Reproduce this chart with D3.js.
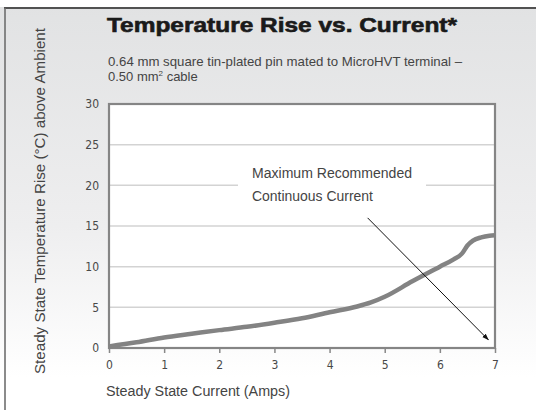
<!DOCTYPE html>
<html>
<head>
  <title>Temperature Rise vs. Current</title>
  <script src="https://d3js.org/d3.v7.min.js"></script>
  <style>
  body { margin: 0; background: #fff; }
  svg { display: block; font-family: 'Liberation Sans', Arial, sans-serif; }
  .tick text { font-family: 'Liberation Sans Narrow', 'DejaVu Sans Condensed', sans-serif; font-size: 12px; fill: #484848; }
  .tick line { stroke: #888; stroke-width: 1.5; }
  .domain { display: none; }
  </style>
</head>
<body>
<svg id="chart"></svg>
<script>
  // values
  var currentAmps = [0, 0.5, 1, 1.5, 2, 2.5, 3, 3.5, 4, 4.5, 4.75, 5, 5.5, 6, 6.25, 6.4, 6.5, 6.6, 6.75, 6.9, 7];
  var tempRise    = [0.2, 0.7, 1.3, 1.75, 2.2, 2.6, 3.1, 3.65, 4.4, 5.1, 5.6, 6.3, 8.2, 10.0, 10.9, 11.6, 12.6, 13.2, 13.6, 13.8, 13.85];
  var xTicks = [0, 1, 2, 3, 4, 5, 6, 7];
  var yTicks = [0, 5, 10, 15, 20, 25, 30];
  var gridValues = [5, 10, 15, 20, 25];
  // arrow pointing at the max recommended continuous current
  var arrowFrom = [4.69, 16.0];
  var arrowTo = [6.88, 1.0];

  var width = 536, height = 410;
  var svg = d3.select("#chart").attr("width", width).attr("height", height);

  var defs = svg.append("defs");
  var grad = defs.append("linearGradient").attr("id", "bg").attr("x1", 0).attr("y1", 0).attr("x2", 0).attr("y2", 1);
  grad.append("stop").attr("offset", "0%").attr("stop-color", "#e1e2e3");
  grad.append("stop").attr("offset", "55%").attr("stop-color", "#eeeeef");
  grad.append("stop").attr("offset", "92%").attr("stop-color", "#ffffff");
  defs.append("marker").attr("id", "arrow")
    .attr("viewBox", "0 0 10 10").attr("refX", 9).attr("refY", 5)
    .attr("markerWidth", 7).attr("markerHeight", 7).attr("orient", "auto")
    .append("path").attr("d", "M0,1.5 L10,5 L0,8.5 Z").attr("fill", "#111");

  // panel background and frame
  svg.append("rect").attr("x", 0).attr("y", 0).attr("width", width).attr("height", height).attr("fill", "url(#bg)");
  svg.append("rect").attr("x", 0).attr("y", 0).attr("width", width).attr("height", 7).attr("fill", "#fff");
  svg.append("line").attr("x1", 4).attr("x2", width).attr("y1", 8).attr("y2", 8).attr("stroke", "#222").attr("stroke-width", 1.6);
  svg.append("line").attr("x1", 5).attr("x2", 5).attr("y1", 8).attr("y2", height).attr("stroke", "#6e6e6e").attr("stroke-width", 1.6);

  var x = d3.scaleLinear().domain([0, 7]).range([109, 495]);
  var y = d3.scaleLinear().domain([0, 30]).range([348, 104]);

  // plot area
  svg.append("rect")
    .attr("x", x(0)).attr("y", y(30))
    .attr("width", x(7) - x(0)).attr("height", y(0) - y(30))
    .attr("fill", "#fff");

  svg.append("g").selectAll("line").data(gridValues).enter().append("line")
    .attr("x1", x(0)).attr("x2", x(7))
    .attr("y1", d => y(d)).attr("y2", d => y(d))
    .attr("stroke", "#d3d3d3").attr("stroke-width", 1.5);

  // axes
  svg.append("g").attr("transform", "translate(0," + y(0) + ")")
    .call(d3.axisBottom(x).tickValues(xTicks).tickFormat(d3.format("d")).tickSize(5).tickPadding(7));
  svg.append("g").attr("transform", "translate(" + x(0) + ",0)")
    .call(d3.axisLeft(y).tickValues(yTicks).tickFormat(d3.format("d")).tickSize(0).tickPadding(10));

  // plot border
  svg.append("rect")
    .attr("x", x(0)).attr("y", y(30))
    .attr("width", x(7) - x(0)).attr("height", y(0) - y(30))
    .attr("fill", "none").attr("stroke", "#858585").attr("stroke-width", 2.2);

  // annotation label with white backing over the grid
  svg.append("rect").attr("x", 238).attr("y", 160).attr("width", 188).attr("height", 50).attr("fill", "#fff");
  var note = svg.append("g").attr("fill", "#444").attr("font-size", "14px");
  note.append("text").attr("x", 252).attr("y", 177.5).attr("textLength", 160).attr("lengthAdjust", "spacingAndGlyphs").text("Maximum Recommended");
  note.append("text").attr("x", 252).attr("y", 200.5).attr("textLength", 121).attr("lengthAdjust", "spacingAndGlyphs").text("Continuous Current");

  // curve
  var line = d3.line().x(d => x(d[0])).y(d => y(d[1])).curve(d3.curveMonotoneX);
  svg.append("path")
    .datum(d3.zip(currentAmps, tempRise))
    .attr("d", line)
    .attr("fill", "none").attr("stroke", "#838383").attr("stroke-width", 4.5)
    .attr("stroke-linecap", "butt");

  svg.append("line")
    .attr("x1", x(arrowFrom[0])).attr("y1", y(arrowFrom[1]))
    .attr("x2", x(arrowTo[0])).attr("y2", y(arrowTo[1]))
    .attr("stroke", "#111").attr("stroke-width", 1)
    .attr("marker-end", "url(#arrow)");

  // titles
  svg.append("text").attr("x", 107).attr("y", 32)
    .attr("font-size", "20px").attr("font-weight", "bold").attr("fill", "#1a1a1a")
    .attr("stroke", "#1a1a1a").attr("stroke-width", 0.6)
    .attr("textLength", 350).attr("lengthAdjust", "spacingAndGlyphs")
    .text("Temperature Rise vs. Current*");
  var sub = svg.append("g").attr("fill", "#444").attr("font-size", "13px");
  sub.append("text").attr("x", 108).attr("y", 65.5).attr("textLength", 354).attr("lengthAdjust", "spacingAndGlyphs")
    .text("0.64 mm square tin-plated pin mated to MicroHVT terminal \u2013");
  var l2 = sub.append("text").attr("x", 108).attr("y", 80.5);
  l2.append("tspan").text("0.50 mm");
  l2.append("tspan").attr("font-size", "8px").attr("dy", -5).text("2");
  l2.append("tspan").attr("dy", 5).text(" cable");

  // axis titles
  svg.append("text").attr("x", 106).attr("y", 395.5)
    .attr("font-size", "14px").attr("fill", "#444")
    .attr("textLength", 184).attr("lengthAdjust", "spacingAndGlyphs")
    .text("Steady State Current (Amps)");
  svg.append("text")
    .attr("transform", "translate(45,374) rotate(-90)")
    .attr("font-size", "15px").attr("fill", "#444")
    .attr("textLength", 346).attr("lengthAdjust", "spacingAndGlyphs")
    .text("Steady State Temperature Rise (\u00B0C) above Ambient");
</script>
</body>
</html>
